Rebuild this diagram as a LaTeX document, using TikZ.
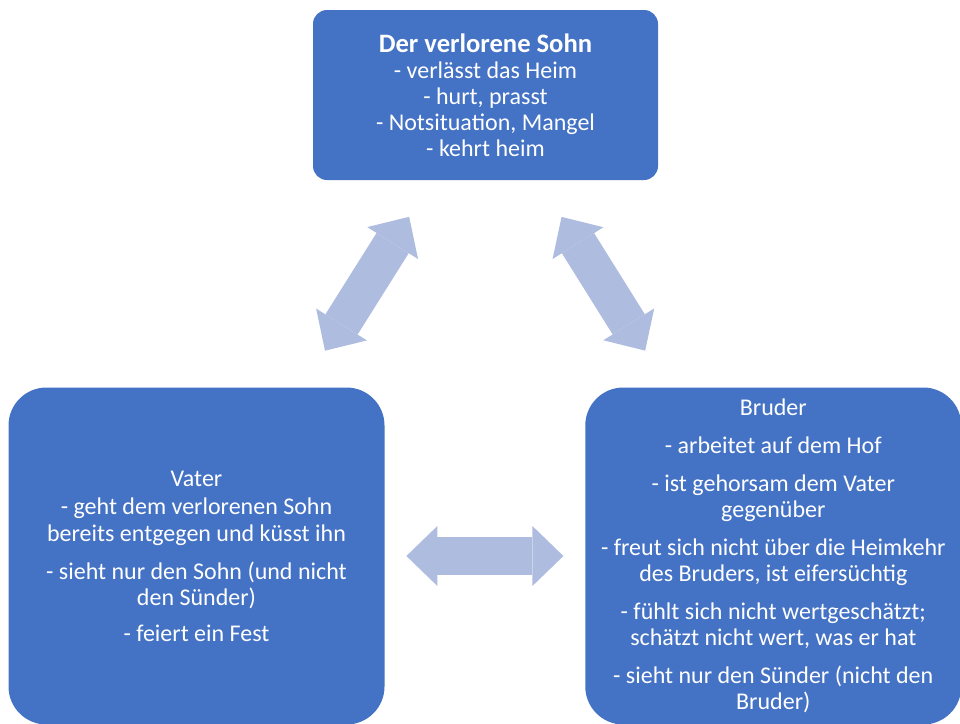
\documentclass[tikz,border=0pt]{standalone}
\usepackage{fontspec}
\setmainfont{Carlito}
\usepackage{xcolor}
\definecolor{boxblue}{RGB}{68,114,196}
\definecolor{arrowblue}{RGB}{174,188,223}
\usepackage{tikz}
\usetikzlibrary{arrows.meta,positioning}

\begin{document}
\begin{tikzpicture}[x=0.5pt, y=-0.5pt,
    box/.style = {fill=boxblue, text=white, align=center, inner sep=0pt,
        font=\fontsize{12}{13}\selectfont},
    topbox/.style = {box, rounded corners=7pt, minimum width=172.5pt, minimum height=85pt},
    sidebox/.style = {box, rounded corners=19pt, minimum width=188pt, minimum height=168.5pt},
    fatarrow/.style = {draw=arrowblue, line width=19pt,
        >={Triangle[length=15.5pt, width=30pt, line width=0pt]}, <->}]
    \useasboundingbox (0,0) rectangle (960,724);

    \node[topbox] (sohn) at (485.5,95) {{\fontsize{13.3}{13}\selectfont\bfseries Der verlorene Sohn}\\- verlässt das Heim\\- hurt, prasst\\- Notsituation, Mangel\\- kehrt heim};
    \node[sidebox] (vater) at (196.5,556) {Vater\\[1pt]- geht dem verlorenen Sohn\\[0.5pt]bereits entgegen und küsst ihn\\[6pt]- sieht nur den Sohn (und nicht\\den Sünder)\\[5pt]- feiert ein Fest};
    \node[sidebox, right = 100pt of vater] (bruder) {Bruder\\[6pt]- arbeitet auf dem Hof\\[6pt]- ist gehorsam dem Vater\\gegenüber\\[6pt]- freut sich nicht über die Heimkehr\\des Bruders, ist eifersüchtig\\[6pt]- fühlt sich nicht wertgeschätzt;\\schätzt nicht wert, was er hat\\[6pt]- sieht nur den Sünder (nicht den\\Bruder)};

    \draw[fatarrow, shorten <=21.5pt, shorten >=21.5pt] (vater) -- (sohn);
    \draw[fatarrow, shorten <=21.5pt, shorten >=21.5pt] (sohn) -- (bruder);
    \draw[fatarrow, shorten <=10.75pt, shorten >=10.75pt] (vater) -- (bruder);
\end{tikzpicture}
\end{document}
